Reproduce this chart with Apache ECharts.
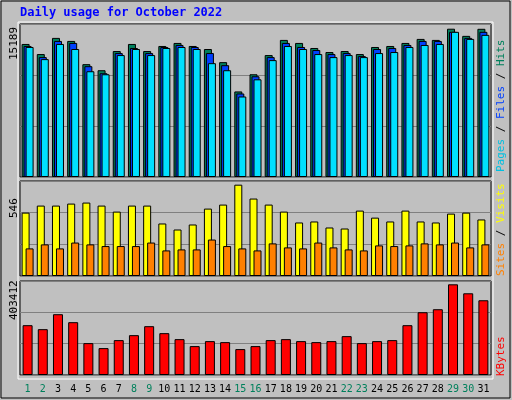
<!DOCTYPE html>
<html><head><meta charset="utf-8">
<script src="https://cdn.jsdelivr.net/npm/echarts@6/dist/echarts.min.js"></script>
<style>html,body{margin:0;padding:0;background:#c0c0c0}#c{width:512px;height:400px}</style>
</head><body><div id="c"></div>
<script>
const days = Array.from({length:31},(_,i)=>String(i+1));
const weekend = ['1','2','8','9','15','16','22','23','29','30'];
const hits = [13628,12593,14249,13938,11558,10937,12903,13628,12903,13421,13731,13421,13110,11765,8763,10523,12489,14042,13731,13214,12800,12903,12593,13317,13421,13731,14145,14042,15189,14456,15180];
const files = [13421,12282,13938,13731,11351,10626,12696,13214,12696,13317,13524,13317,12696,11454,8556,10316,12282,13731,13317,13007,12593,12696,12386,13110,13214,13524,13938,13938,14870,14249,14870];
const pages = [13317,12075,13628,13110,10833,10523,12489,13110,12489,13214,13317,13110,11661,10937,8246,10005,11972,13421,13110,12593,12282,12489,12282,12696,12800,13317,13524,13628,14870,14145,14559];
const visits = [379,421,421,433,439,421,385,421,421,314,278,308,403,427,546,463,427,385,320,326,290,284,391,349,326,391,326,320,373,379,338];
const sites = [165,189,165,200,189,179,179,179,200,153,159,159,218,179,165,153,195,171,165,200,171,159,153,183,179,183,195,189,200,171,189];
const kbytes = [221660,203929,270430,234960,141865,119700,155165,177330,217230,186200,159600,128560,150730,146300,115260,128560,155165,159600,150730,146300,150730,172900,141865,150730,155165,221660,279300,292600,403412,363530,332500];
const maxLabels = ['15189','546','403412'];

const ch = echarts.init(document.getElementById('c'));
const grids = [
  {left:20,right:21,top:24,height:153},
  {left:20,right:21,top:181,height:95},
  {left:20,right:21,top:281,height:94}
];
const mx = [15672,568,418200];
const bs = {borderColor:'#000',borderWidth:1};
const mono = 'DejaVu Sans Mono';
const xAxes = grids.map((g,i)=>({type:'category',gridIndex:i,data:days,
  axisLine:{show:false},axisTick:{show:false},
  axisLabel:{show:i===2,interval:0,margin:9,fontFamily:mono,fontSize:10,
    color:(v)=>weekend.includes(v)?'#00805c':'#000'}}));
const yAxes = grids.map((g,i)=>({type:'value',gridIndex:i,min:0,max:mx[i],interval:mx[i]/3,
  axisLabel:{show:false},axisLine:{show:false},axisTick:{show:false},
  splitLine:{lineStyle:{color:'#808080',width:1}}}));
const f = '11px '+mono;
ch.setOption({
  backgroundColor:'#c0c0c0',animation:false,
  grid:grids.map(g=>Object.assign({show:true,backgroundColor:'#c0c0c0',borderColor:'#000',borderWidth:1},g)),
  xAxis:xAxes,yAxis:yAxes,
  graphic:[
    {type:'rect',shape:{x:1,y:1,width:509,height:397},style:{fill:'none',stroke:'#000',lineWidth:1}},
    {type:'rect',shape:{x:18,y:22,width:475,height:357},style:{fill:'none',stroke:'#fff',lineWidth:1}},
    {type:'text',left:20,top:7,style:{text:'Daily usage for October 2022',fill:'#0000ff',font:'bold 12px '+mono}},
    {type:'text',x:9,y:60,rotation:Math.PI/2,style:{text:maxLabels[0],fill:'#000',font:f}},
    {type:'text',x:9,y:218,rotation:Math.PI/2,style:{text:maxLabels[1],fill:'#000',font:f}},
    {type:'text',x:9,y:320,rotation:Math.PI/2,style:{text:maxLabels[2],fill:'#000',font:f}},
    {type:'text',x:496,y:172,rotation:Math.PI/2,style:{rich:{p:{fill:'#00c0e0',font:f},f:{fill:'#0040ff',font:f},h:{fill:'#00805c',font:f},s:{fill:'#000',font:f}},text:'{p|Pages}{s| / }{f|Files}{s| / }{h|Hits}'}},
    {type:'text',x:496,y:276,rotation:Math.PI/2,style:{rich:{a:{fill:'#ff8000',font:f},b:{fill:'#ffff00',font:f},s:{fill:'#000',font:f}},text:'{a|Sites}{s| / }{b|Visits}'}},
    {type:'text',x:496,y:376,rotation:Math.PI/2,style:{text:'KBytes',fill:'#ff0000',font:f}}
  ],
  series:[
    {type:'bar',xAxisIndex:0,yAxisIndex:0,data:hits,barWidth:8,barGap:'-75%',itemStyle:Object.assign({color:'#00805c'},bs)},
    {type:'bar',xAxisIndex:0,yAxisIndex:0,data:files,barWidth:8,barGap:'-75%',itemStyle:Object.assign({color:'#0040ff'},bs)},
    {type:'bar',xAxisIndex:0,yAxisIndex:0,data:pages,barWidth:8,barGap:'-75%',itemStyle:Object.assign({color:'#00e0ff'},bs)},
    {type:'bar',xAxisIndex:1,yAxisIndex:1,data:visits,barWidth:8,barGap:'-50%',itemStyle:Object.assign({color:'#ffff00'},bs)},
    {type:'bar',xAxisIndex:1,yAxisIndex:1,data:sites,barWidth:8,barGap:'-50%',itemStyle:Object.assign({color:'#ff8000'},bs)},
    {type:'bar',xAxisIndex:2,yAxisIndex:2,data:kbytes,barWidth:10,itemStyle:Object.assign({color:'#ff0000'},bs)}
  ]
});
</script></body></html>
